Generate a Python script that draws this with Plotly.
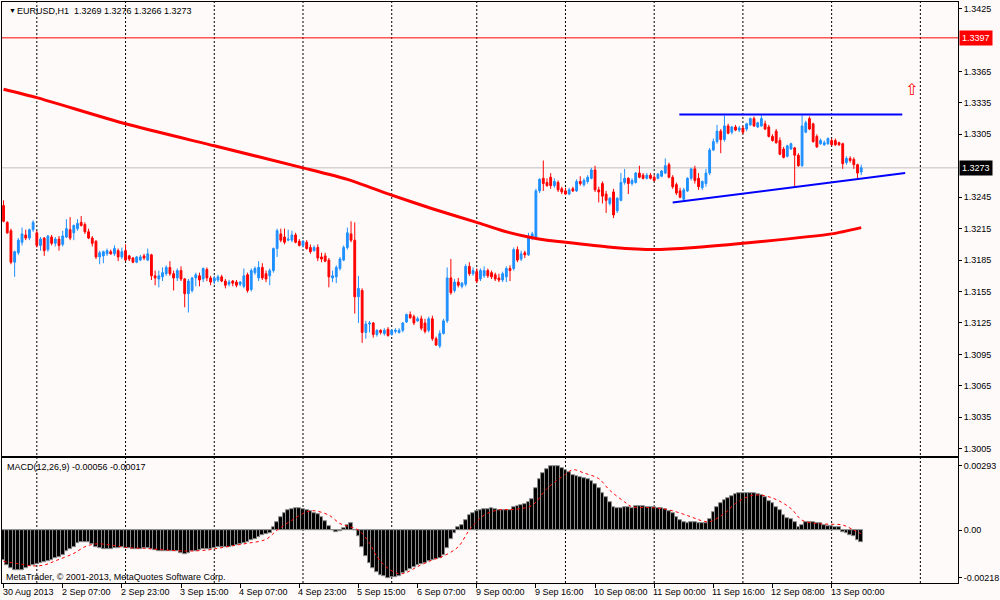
import plotly.graph_objects as go

# EURUSD H1 bars, 30 Aug 2013 14:00 .. 13 Sep 2013 08:00 (one entry per hourly bar)
opens = [
    1.3237, 1.3221, 1.3213, 1.3183, 1.3192, 1.3202, 1.3209, 1.3206, 1.3214, 1.3211,
    1.3199, 1.3206, 1.3195, 1.3207, 1.3201, 1.3205, 1.3200, 1.3207, 1.3214, 1.3211,
    1.3215, 1.3221, 1.3219, 1.3212, 1.3206, 1.3203, 1.3188, 1.3189, 1.3191, 1.3193,
    1.3191, 1.3194, 1.3188, 1.3194, 1.3189, 1.3187, 1.3183, 1.3185, 1.3189, 1.3185,
    1.3190, 1.3170, 1.3167, 1.3169, 1.3172, 1.3178, 1.3172, 1.3168, 1.3175, 1.3167,
    1.3153, 1.3156, 1.3168, 1.3170, 1.3167, 1.3176, 1.3168, 1.3165, 1.3166, 1.3169,
    1.3165, 1.3162, 1.3165, 1.3164, 1.3162, 1.3160, 1.3171, 1.3157, 1.3173, 1.3168,
    1.3178, 1.3172, 1.3170, 1.3175, 1.3196, 1.3210, 1.3207, 1.3204, 1.3204, 1.3209,
    1.3203, 1.3199, 1.3202, 1.3197, 1.3194, 1.3197, 1.3188, 1.3189, 1.3185, 1.3168,
    1.3169, 1.3177, 1.3185, 1.3197, 1.3210, 1.3204, 1.3150, 1.3156, 1.3116, 1.3124,
    1.3125, 1.3114, 1.3118, 1.3115, 1.3119, 1.3114, 1.3117, 1.3116, 1.3118, 1.3126,
    1.3133, 1.3131, 1.3127, 1.3129, 1.3125, 1.3118, 1.3129, 1.3110, 1.3103, 1.3115,
    1.3127, 1.3168, 1.3156, 1.3164, 1.3160, 1.3162, 1.3179, 1.3172, 1.3174, 1.3167,
    1.3170, 1.3175, 1.3173, 1.3171, 1.3168, 1.3166, 1.3169, 1.3177, 1.3177, 1.3195,
    1.3186, 1.3192, 1.3190, 1.3206, 1.3207, 1.3251, 1.3263, 1.3259, 1.3264, 1.3256,
    1.3259, 1.3253, 1.3251, 1.3248, 1.3253, 1.3251, 1.3260, 1.3257, 1.3260, 1.3263,
    1.3271, 1.3252, 1.3258, 1.3248, 1.3239, 1.3250, 1.3232, 1.3242, 1.3259, 1.3263,
    1.3258, 1.3259, 1.3268, 1.3266, 1.3263, 1.3266, 1.3264, 1.3263, 1.3265, 1.3268,
    1.3276, 1.3264, 1.3257, 1.3251, 1.3243, 1.3251, 1.3263, 1.3272, 1.3263, 1.3254,
    1.3258, 1.3268, 1.3290, 1.3298, 1.3308, 1.3300, 1.3313, 1.3307, 1.3312, 1.3309,
    1.3311, 1.3310, 1.3314, 1.3320, 1.3312, 1.3313, 1.3315, 1.3312, 1.3303, 1.3308,
    1.3299, 1.3291, 1.3284, 1.3291, 1.3292, 1.3285, 1.3275, 1.3307, 1.3320, 1.3315,
    1.3303, 1.3296, 1.3295, 1.3296, 1.3299, 1.3299, 1.3297, 1.3296, 1.3278, 1.3282,
    1.3281, 1.3276, 1.3269,
]
highs = [
    1.3242, 1.3222, 1.3215, 1.3194, 1.3206, 1.3216, 1.3214, 1.3215, 1.3223, 1.3213,
    1.3207, 1.3207, 1.3209, 1.3209, 1.3207, 1.3208, 1.3213, 1.3224, 1.3226, 1.3219,
    1.3224, 1.3227, 1.3221, 1.3215, 1.3208, 1.3204, 1.3194, 1.3194, 1.3196, 1.3195,
    1.3199, 1.3196, 1.3197, 1.3200, 1.3190, 1.3188, 1.3189, 1.3190, 1.3191, 1.3196,
    1.3191, 1.3175, 1.3175, 1.3178, 1.3180, 1.3184, 1.3175, 1.3177, 1.3179, 1.3168,
    1.3167, 1.3169, 1.3173, 1.3173, 1.3178, 1.3178, 1.3170, 1.3170, 1.3171, 1.3171,
    1.3167, 1.3166, 1.3166, 1.3166, 1.3165, 1.3177, 1.3173, 1.3177, 1.3179, 1.3184,
    1.3182, 1.3175, 1.3177, 1.3197, 1.3215, 1.3215, 1.3215, 1.3214, 1.3213, 1.3211,
    1.3205, 1.3204, 1.3204, 1.3200, 1.3199, 1.3200, 1.3192, 1.3192, 1.3187, 1.3175,
    1.3180, 1.3188, 1.3199, 1.3216, 1.3222, 1.3221, 1.3170, 1.3158, 1.3127, 1.3127,
    1.3126, 1.3119, 1.3119, 1.3120, 1.3121, 1.3119, 1.3120, 1.3120, 1.3126, 1.3134,
    1.3136, 1.3133, 1.3131, 1.3132, 1.3129, 1.3131, 1.3132, 1.3112, 1.3118, 1.3129,
    1.3178, 1.3186, 1.3167, 1.3168, 1.3164, 1.3181, 1.3183, 1.3178, 1.3177, 1.3177,
    1.3179, 1.3177, 1.3175, 1.3173, 1.3172, 1.3174, 1.3179, 1.3180, 1.3197, 1.3198,
    1.3194, 1.3194, 1.3211, 1.3212, 1.3253, 1.3263, 1.3280, 1.3263, 1.3268, 1.3263,
    1.3261, 1.3255, 1.3254, 1.3254, 1.3255, 1.3262, 1.3265, 1.3263, 1.3266, 1.3273,
    1.3275, 1.3255, 1.3260, 1.3251, 1.3245, 1.3253, 1.3245, 1.3268, 1.3272, 1.3264,
    1.3263, 1.3269, 1.3275, 1.3268, 1.3268, 1.3268, 1.3266, 1.3268, 1.3271, 1.3282,
    1.3278, 1.3266, 1.3259, 1.3254, 1.3254, 1.3264, 1.3273, 1.3275, 1.3268, 1.3261,
    1.3272, 1.3292, 1.3301, 1.3314, 1.3310, 1.3323, 1.3315, 1.3313, 1.3314, 1.3313,
    1.3313, 1.3316, 1.3321, 1.3322, 1.3317, 1.3323, 1.3318, 1.3314, 1.3305, 1.3310,
    1.3302, 1.3293, 1.3295, 1.3297, 1.3293, 1.3287, 1.3323, 1.3318, 1.3322, 1.3316,
    1.3305, 1.3301, 1.3299, 1.3302, 1.3301, 1.3301, 1.3298, 1.3297, 1.3284, 1.3284,
    1.3283, 1.3277, 1.3276,
]
lows = [
    1.3221, 1.3210, 1.3181, 1.3169, 1.3190, 1.3199, 1.3204, 1.3204, 1.3212, 1.3197,
    1.3194, 1.3189, 1.3193, 1.3199, 1.3198, 1.3194, 1.3198, 1.3206, 1.3204, 1.3204,
    1.3213, 1.3217, 1.3210, 1.3205, 1.3198, 1.3186, 1.3181, 1.3182, 1.3189, 1.3190,
    1.3189, 1.3184, 1.3186, 1.3184, 1.3184, 1.3182, 1.3182, 1.3184, 1.3185, 1.3184,
    1.3166, 1.3161, 1.3159, 1.3165, 1.3170, 1.3170, 1.3156, 1.3165, 1.3165, 1.3140,
    1.3135, 1.3154, 1.3160, 1.3160, 1.3164, 1.3165, 1.3161, 1.3162, 1.3164, 1.3164,
    1.3158, 1.3160, 1.3160, 1.3159, 1.3160, 1.3158, 1.3154, 1.3155, 1.3171, 1.3165,
    1.3166, 1.3164, 1.3161, 1.3173, 1.3188, 1.3202, 1.3200, 1.3203, 1.3202, 1.3201,
    1.3198, 1.3197, 1.3195, 1.3191, 1.3193, 1.3184, 1.3183, 1.3183, 1.3159, 1.3164,
    1.3163, 1.3175, 1.3184, 1.3195, 1.3202, 1.3134, 1.3125, 1.3106, 1.3110, 1.3116,
    1.3111, 1.3112, 1.3114, 1.3113, 1.3112, 1.3113, 1.3115, 1.3115, 1.3116, 1.3125,
    1.3129, 1.3123, 1.3126, 1.3118, 1.3115, 1.3116, 1.3108, 1.3103, 1.3101, 1.3114,
    1.3125, 1.3152, 1.3154, 1.3159, 1.3158, 1.3160, 1.3170, 1.3170, 1.3163, 1.3165,
    1.3168, 1.3168, 1.3167, 1.3165, 1.3164, 1.3164, 1.3164, 1.3165, 1.3175, 1.3183,
    1.3184, 1.3187, 1.3189, 1.3204, 1.3205, 1.3249, 1.3251, 1.3255, 1.3253, 1.3254,
    1.3250, 1.3248, 1.3247, 1.3247, 1.3250, 1.3250, 1.3256, 1.3255, 1.3258, 1.3262,
    1.3250, 1.3240, 1.3239, 1.3230, 1.3237, 1.3225, 1.3230, 1.3241, 1.3257, 1.3248,
    1.3256, 1.3258, 1.3263, 1.3262, 1.3262, 1.3262, 1.3260, 1.3262, 1.3264, 1.3267,
    1.3263, 1.3253, 1.3247, 1.3244, 1.3241, 1.3250, 1.3261, 1.3258, 1.3252, 1.3252,
    1.3255, 1.3266, 1.3289, 1.3296, 1.3287, 1.3298, 1.3305, 1.3305, 1.3308, 1.3307,
    1.3305, 1.3308, 1.3313, 1.3312, 1.3311, 1.3312, 1.3309, 1.3302, 1.3298, 1.3296,
    1.3285, 1.3282, 1.3283, 1.3290, 1.3254, 1.3274, 1.3274, 1.3306, 1.3309, 1.3297,
    1.3292, 1.3295, 1.3294, 1.3295, 1.3294, 1.3294, 1.3294, 1.3272, 1.3276, 1.3278,
    1.3272, 1.3263, 1.3266,
]
closes = [
    1.3222, 1.3211, 1.3183, 1.3193, 1.3204, 1.3210, 1.3206, 1.3214, 1.3221, 1.3199,
    1.3205, 1.3194, 1.3208, 1.3201, 1.3205, 1.3199, 1.3208, 1.3215, 1.3206, 1.3218,
    1.3220, 1.3218, 1.3212, 1.3206, 1.3201, 1.3188, 1.3192, 1.3193, 1.3194, 1.3191,
    1.3196, 1.3188, 1.3193, 1.3185, 1.3186, 1.3183, 1.3188, 1.3188, 1.3187, 1.3191,
    1.3170, 1.3168, 1.3170, 1.3173, 1.3178, 1.3172, 1.3168, 1.3175, 1.3167, 1.3153,
    1.3165, 1.3168, 1.3171, 1.3166, 1.3177, 1.3168, 1.3164, 1.3168, 1.3169, 1.3165,
    1.3161, 1.3164, 1.3163, 1.3161, 1.3164, 1.3170, 1.3156, 1.3175, 1.3177, 1.3178,
    1.3168, 1.3167, 1.3175, 1.3196, 1.3213, 1.3204, 1.3202, 1.3205, 1.3209, 1.3202,
    1.3199, 1.3203, 1.3196, 1.3193, 1.3197, 1.3187, 1.3186, 1.3184, 1.3169, 1.3170,
    1.3178, 1.3186, 1.3197, 1.3211, 1.3204, 1.3150, 1.3158, 1.3116, 1.3124, 1.3125,
    1.3114, 1.3118, 1.3116, 1.3118, 1.3113, 1.3118, 1.3118, 1.3118, 1.3125, 1.3133,
    1.3130, 1.3125, 1.3129, 1.3120, 1.3117, 1.3129, 1.3110, 1.3104, 1.3115, 1.3127,
    1.3168, 1.3154, 1.3164, 1.3161, 1.3163, 1.3179, 1.3172, 1.3175, 1.3165, 1.3175,
    1.3175, 1.3170, 1.3169, 1.3167, 1.3166, 1.3172, 1.3177, 1.3175, 1.3195, 1.3185,
    1.3191, 1.3190, 1.3206, 1.3210, 1.3251, 1.3262, 1.3258, 1.3256, 1.3256, 1.3260,
    1.3252, 1.3250, 1.3248, 1.3252, 1.3251, 1.3260, 1.3258, 1.3261, 1.3264, 1.3271,
    1.3252, 1.3250, 1.3246, 1.3242, 1.3244, 1.3228, 1.3244, 1.3259, 1.3263, 1.3258,
    1.3261, 1.3268, 1.3264, 1.3263, 1.3266, 1.3263, 1.3261, 1.3267, 1.3270, 1.3275,
    1.3264, 1.3255, 1.3249, 1.3245, 1.3252, 1.3263, 1.3272, 1.3261, 1.3255, 1.3260,
    1.3268, 1.3290, 1.3298, 1.3308, 1.3300, 1.3313, 1.3306, 1.3312, 1.3309, 1.3311,
    1.3307, 1.3315, 1.3320, 1.3313, 1.3316, 1.3320, 1.3310, 1.3303, 1.3299, 1.3297,
    1.3286, 1.3283, 1.3294, 1.3296, 1.3285, 1.3275, 1.3313, 1.3316, 1.3310, 1.3298,
    1.3293, 1.3299, 1.3297, 1.3301, 1.3295, 1.3295, 1.3295, 1.3277, 1.3282, 1.3280,
    1.3276, 1.3268, 1.3273,
]

# MACD(12,26,9) main histogram, one value per bar
macd_hist = [
    -0.00139, -0.00159, -0.00174, -0.00184, -0.00184, -0.00181, -0.00175, -0.00166, -0.00159, -0.00154,
    -0.00151, -0.00145, -0.00140, -0.00136, -0.00130, -0.00124, -0.00113, -0.00098, -0.00088, -0.00076,
    -0.00060, -0.00056, -0.00053, -0.00057, -0.00066, -0.00076, -0.00083, -0.00086, -0.00088, -0.00086,
    -0.00083, -0.00082, -0.00080, -0.00082, -0.00083, -0.00085, -0.00086, -0.00085, -0.00083, -0.00083,
    -0.00086, -0.00091, -0.00095, -0.00097, -0.00098, -0.00098, -0.00098, -0.00098, -0.00103, -0.00109,
    -0.00103, -0.00098, -0.00095, -0.00091, -0.00088, -0.00086, -0.00085, -0.00082, -0.00079, -0.00079,
    -0.00079, -0.00076, -0.00072, -0.00069, -0.00066, -0.00060, -0.00056, -0.00048, -0.00042, -0.00033,
    -0.00023, -0.00018, -0.00012, 0.00015, 0.00038, 0.00060, 0.00079, 0.00091, 0.00097, 0.00098,
    0.00098, 0.00095, 0.00091, 0.00085, 0.00079, 0.00071, 0.00060, 0.00042, 0.00018, -0.00002,
    -0.00008, -0.00005, 0.00008, 0.00023, 0.00030, -0.00002, -0.00027, -0.00076, -0.00118, -0.00151,
    -0.00174, -0.00193, -0.00204, -0.00211, -0.00218, -0.00216, -0.00214, -0.00208, -0.00196, -0.00187,
    -0.00178, -0.00169, -0.00162, -0.00156, -0.00149, -0.00143, -0.00137, -0.00133, -0.00130, -0.00113,
    -0.00083, -0.00042, -0.00012, 0.00012, 0.00023, 0.00045, 0.00068, 0.00079, 0.00088, 0.00091,
    0.00094, 0.00097, 0.00098, 0.00097, 0.00091, 0.00091, 0.00091, 0.00091, 0.00106, 0.00109,
    0.00113, 0.00118, 0.00128, 0.00139, 0.00189, 0.00230, 0.00257, 0.00279, 0.00290, 0.00293,
    0.00290, 0.00284, 0.00272, 0.00263, 0.00249, 0.00245, 0.00239, 0.00234, 0.00230, 0.00222,
    0.00211, 0.00189, 0.00169, 0.00148, 0.00125, 0.00103, 0.00098, 0.00101, 0.00103, 0.00103,
    0.00100, 0.00109, 0.00109, 0.00109, 0.00106, 0.00103, 0.00103, 0.00101, 0.00098, 0.00097,
    0.00088, 0.00076, 0.00060, 0.00045, 0.00036, 0.00033, 0.00036, 0.00038, 0.00030, 0.00030,
    0.00030, 0.00048, 0.00083, 0.00106, 0.00121, 0.00136, 0.00143, 0.00156, 0.00163, 0.00166,
    0.00166, 0.00166, 0.00166, 0.00166, 0.00163, 0.00159, 0.00151, 0.00133, 0.00121, 0.00106,
    0.00091, 0.00068, 0.00053, 0.00048, 0.00038, 0.00015, 0.00023, 0.00038, 0.00038, 0.00035,
    0.00033, 0.00030, 0.00023, 0.00018, 0.00018, 0.00015, 0.00011, -0.00008, -0.00015, -0.00023,
    -0.00030, -0.00045, -0.00056,
]

signal_bars = [0, 4, 8, 11, 14, 19, 22, 25, 29, 33, 38, 42, 47, 51, 55, 58, 62, 66, 71, 74,
               78, 82, 84, 88, 91, 93, 96, 99, 101, 104, 107, 109, 112, 116, 119, 123, 126, 130, 134, 138,
               143, 147, 152, 154, 157, 161, 164, 168, 170, 174, 178, 182, 186, 189, 191, 195, 198, 202, 205, 209,
               213, 216, 220, 223, 227, 230, 232]
signal_vals = [-0.00143, -0.00153, -0.00163, -0.00159, -0.00140, -0.00106, -0.00076, -0.00063, -0.00068, -0.00079,
               -0.00083, -0.00088, -0.00094, -0.00095, -0.00091, -0.00083, -0.00071, -0.00060, -0.00042, 0.00000,
               0.00045, 0.00083, 0.00088, 0.00068, 0.00030, 0.00018, 0.00000, -0.00060, -0.00121, -0.00174,
               -0.00199, -0.00193, -0.00166, -0.00136, -0.00118, -0.00076, 0.00000, 0.00068, 0.00092, 0.00094,
               0.00113, 0.00189, 0.00254, 0.00275, 0.00260, 0.00234, 0.00181, 0.00128, 0.00106, 0.00103,
               0.00098, 0.00083, 0.00060, 0.00042, 0.00038, 0.00076, 0.00121, 0.00156, 0.00159, 0.00139,
               0.00098, 0.00045, 0.00030, 0.00027, 0.00023, 0.00000, -0.00017]

# long moving average on the price chart, read at a subset of bars
ma_bars = [0, 9, 33, 57, 81, 93, 105, 116, 128, 135, 142, 147, 152, 165, 176, 187, 200, 224, 232]
ma_vals = [1.3348, 1.3340, 1.3315, 1.3294, 1.3273, 1.3262, 1.3247, 1.3234, 1.3221, 1.3213,
           1.3207, 1.3204, 1.3202, 1.3197, 1.3195, 1.3197, 1.3201, 1.3210, 1.3216]

# first bar of each trading day (day separators, 2 Sep .. 16 Sep)
day_starts = [9, 33, 57, 81, 105, 128, 152, 176, 200, 224, 248]

# time scale labels, one every 16 bars
time_bars = [0, 16, 32, 48, 64, 80, 96, 112, 128, 144, 160, 176, 192, 208, 224]
time_labels = ['30 Aug 2013', '2 Sep 07:00', '2 Sep 23:00', '3 Sep 15:00', '4 Sep 07:00',
               '4 Sep 23:00', '5 Sep 15:00', '6 Sep 07:00', '9 Sep 00:00', '9 Sep 16:00',
               '10 Sep 08:00', '11 Sep 00:00', '11 Sep 16:00', '12 Sep 08:00', '13 Sep 00:00']

price_ticks = [1.3005, 1.3035, 1.3065, 1.3095, 1.3125, 1.3155, 1.3185, 1.3215, 1.3245,
               1.3305, 1.3335, 1.3365, 1.3425]
macd_ticks = [-0.00218, 0.0, 0.00293]
macd_tick_text = ['-0.00218', '0.00', '0.00293']

# hand drawn trend lines (bar index, price)
resist_bars = [182.8, 243.1]
resist_prices = [1.3324, 1.3324]
support_bars = [181.0, 243.9]
support_prices = [1.3240, 1.3268]

alert_price = 1.3397
bid_price = 1.3273
arrow_bar = 245.5
arrow_price = 1.3348

W, H = 1000, 600
MARGIN = dict(l=2, r=37, t=1, b=17)
FONT = 'Tahoma, Liberation Sans, Arial, sans-serif'
BULL = '#1E90FF'
BEAR = '#FF0000'
BG = '#FFFAFA'


def paper_xy(px, py):
    '''pixel position in the window -> paper coordinates'''
    pw = W - MARGIN['l'] - MARGIN['r']
    ph = H - MARGIN['t'] - MARGIN['b']
    return (px - MARGIN['l']) / pw, (H - MARGIN['b'] - py) / ph


def text_at(px, py, text, size=9, color='black'):
    x, y = paper_xy(px, py)
    return dict(x=x, y=y, xref='paper', yref='paper', text=text, showarrow=False,
                xanchor='left', yanchor='middle', borderpad=0,
                font=dict(family=FONT, size=size, color=color))


def build_figure():
    bars = list(range(len(closes)))
    fig = go.Figure()

    # moving average sits under the candles
    fig.add_trace(go.Scatter(x=ma_bars, y=ma_vals, mode='lines', hoverinfo='skip',
                             line=dict(color='#FF0000', width=3, shape='spline', smoothing=0.6),
                             xaxis='x', yaxis='y'))

    fig.add_trace(go.Candlestick(x=bars, open=opens, high=highs, low=lows, close=closes,
                                 increasing=dict(line=dict(color=BULL, width=1), fillcolor=BULL),
                                 decreasing=dict(line=dict(color=BEAR, width=1), fillcolor=BEAR),
                                 whiskerwidth=0, hoverinfo='skip', xaxis='x', yaxis='y'))

    # trend lines
    for bx, by in [(resist_bars, resist_prices), (support_bars, support_prices)]:
        fig.add_trace(go.Scatter(x=bx, y=by, mode='lines', hoverinfo='skip',
                                 line=dict(color='#0000FF', width=2), xaxis='x', yaxis='y'))

    # MACD panel
    fig.add_trace(go.Bar(x=bars, y=macd_hist, width=1.0, hoverinfo='skip',
                         marker=dict(color='black', line=dict(color='#8C8C8C', width=1.0)),
                         xaxis='x2', yaxis='y2'))
    fig.add_trace(go.Scatter(x=signal_bars, y=signal_vals, mode='lines', hoverinfo='skip',
                             line=dict(color='#FF0000', width=1, dash='dot', shape='spline'),
                             xaxis='x2', yaxis='y2'))

    # day separators through both panels
    shapes = []
    for b in day_starts:
        shapes.append(dict(type='line', xref='x', yref='paper', x0=b, x1=b, y0=0, y1=1,
                           layer='below', line=dict(color='black', width=1, dash='2px,2px')))
    shapes.append(dict(type='line', xref='paper', yref='y', x0=0, x1=1, y0=bid_price, y1=bid_price,
                       layer='below', line=dict(color='#C0C0C0', width=1)))
    shapes.append(dict(type='line', xref='paper', yref='y', x0=0, x1=1, y0=alert_price, y1=alert_price,
                       line=dict(color='#FF0000', width=1)))

    ann = []
    ann.append(text_at(8, 10, '▼', size=7))
    ann.append(text_at(16, 10, 'EURUSD,H1\u00a0\u00a01.3269 1.3276 1.3266 1.3273'))
    ann.append(text_at(6, 467, 'MACD(12,26,9) -0.00056 -0.00017'))
    ann.append(text_at(5, 577, 'MetaTrader, © 2001-2013, MetaQuotes Software Corp.'))
    for b, lab in zip(time_bars, time_labels):
        ann.append(dict(x=b, y=0, xref='x2', yref='paper', text=lab, showarrow=False,
                        xanchor='left', yanchor='top', xshift=-2, yshift=-3, borderpad=0,
                        font=dict(family=FONT, size=9, color='black')))
    # price boxes on the right scale
    for price, box in [(alert_price, '#FF0000'), (bid_price, 'black')]:
        ann.append(dict(x=1, y=price, xref='paper', yref='y', text=f'{price:.4f}', showarrow=False,
                        xanchor='left', yanchor='middle', xshift=1, bgcolor=box, borderpad=2,
                        font=dict(family=FONT, size=9, color='white')))
    ann.append(dict(x=arrow_bar, y=arrow_price, xref='x', yref='y', text='⇧', showarrow=False,
                    font=dict(family='DejaVu Sans', size=16, color='#FF0000')))

    axis_common = dict(showgrid=False, zeroline=False, showline=True, mirror=True,
                       linecolor='black', linewidth=1)
    fig.update_layout(
        width=W, height=H, margin=MARGIN,
        paper_bgcolor=BG, plot_bgcolor=BG,
        showlegend=False, bargap=0,
        shapes=shapes, annotations=ann,
        font=dict(family=FONT, size=9, color='black'),
        xaxis=dict(domain=[0, 1], range=[-0.42, 258.18], anchor='y', showticklabels=False,
                   rangeslider=dict(visible=False), **axis_common),
        xaxis2=dict(domain=[0, 1], matches='x', anchor='y2', showticklabels=False,
                    tickmode='array', tickvals=time_bars, ticks='outside', ticklen=4,
                    tickcolor='black', **axis_common),
        yaxis=dict(domain=[0.2182, 1], range=[1.29979, 1.34312], side='right',
                   tickmode='array', tickvals=price_ticks, tickformat='.4f',
                   ticks='outside', ticklen=3, tickcolor='black', **axis_common),
        yaxis2=dict(domain=[0, 0.2148], range=[-0.002409, 0.003273], side='right',
                    tickmode='array', tickvals=macd_ticks, ticktext=macd_tick_text,
                    ticks='outside', ticklen=3, tickcolor='black', **axis_common),
    )
    return fig


if __name__ == '__main__':
    fig = build_figure()
    # the page body has a default margin; drop it so the chart fills the window
    fig.write_html('out.html', config={'displayModeBar': False},
                   post_script="document.body.style.margin = '0';")
